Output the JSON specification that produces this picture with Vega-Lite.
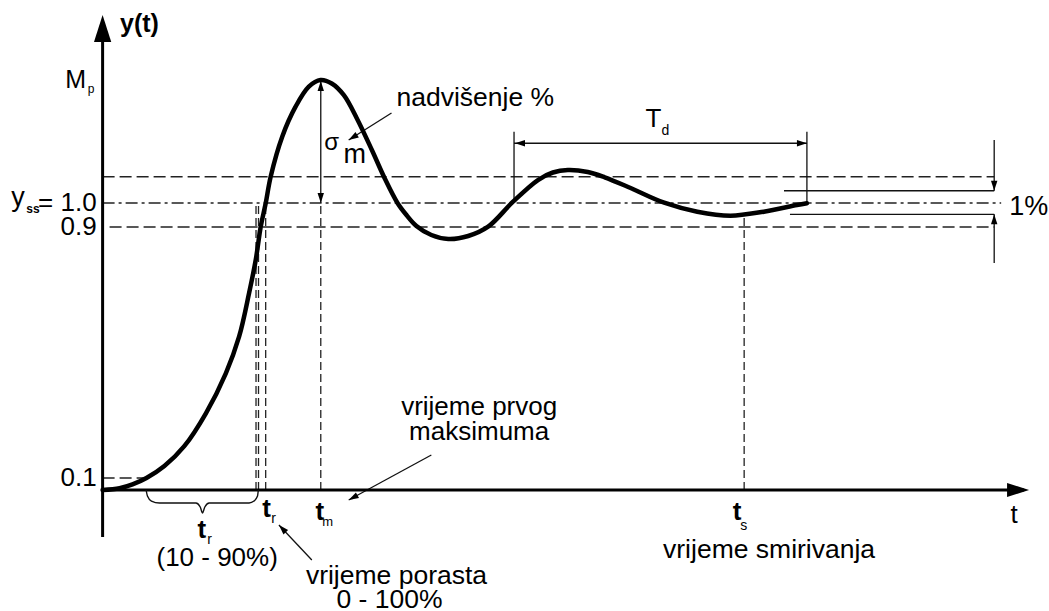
{
  "$schema": "https://vega.github.io/schema/vega-lite/v6.json",
  "width": 1049,
  "height": 611,
  "padding": 0,
  "autosize": {"type": "fit", "contains": "padding"},
  "background": "white",
  "view": {"stroke": null},
  "config": {"text": {"font": "Liberation Sans", "color": "black"}},
  "datasets": {
    "curve": [
      {"t": 0, "y": 0}, {"t": 0.17, "y": 0.015}, {"t": 0.30, "y": 0.0467}, {"t": 0.44, "y": 0.1},
      {"t": 0.62, "y": 0.1382}, {"t": 0.82, "y": 0.2014}, {"t": 1.037, "y": 0.3062}, {"t": 1.237, "y": 0.4337},
      {"t": 1.37, "y": 0.5504}, {"t": 1.47, "y": 0.6887}, {"t": 1.537, "y": 0.7948}, {"t": 1.587, "y": 0.901},
      {"t": 1.637, "y": 0.9988}, {"t": 1.687, "y": 1.1096}, {"t": 1.803, "y": 1.2763}, {"t": 1.937, "y": 1.4013},
      {"t": 2.07, "y": 1.4846}, {"t": 2.187, "y": 1.5125}, {"t": 2.30, "y": 1.4979}, {"t": 2.42, "y": 1.45},
      {"t": 2.55, "y": 1.3542}, {"t": 2.703, "y": 1.2208}, {"t": 2.83, "y": 1.1042}, {"t": 2.96, "y": 1.0},
      {"t": 3.05, "y": 0.95}, {"t": 3.15, "y": 0.9042}, {"t": 3.30, "y": 0.8745}, {"t": 3.47, "y": 0.8618},
      {"t": 3.67, "y": 0.8713}, {"t": 3.87, "y": 0.9013}, {"t": 4.12, "y": 1.0054}, {"t": 4.37, "y": 1.0958},
      {"t": 4.52, "y": 1.1271}, {"t": 4.67, "y": 1.1375}, {"t": 4.87, "y": 1.1292}, {"t": 5.04, "y": 1.1071},
      {"t": 5.30, "y": 1.0625}, {"t": 5.637, "y": 1.0013}, {"t": 5.97, "y": 0.9638}, {"t": 6.303, "y": 0.9471},
      {"t": 6.637, "y": 0.9638}, {"t": 6.97, "y": 0.9917}, {"t": 7.07, "y": 0.999}
    ],
    "dashed": [
      {"t": 0, "y": 1.1096, "t2": 8.95, "y2": 1.1096},
      {"t": 0.07, "y": 0.9, "t2": 8.95, "y2": 0.9},
      {"t": 0, "y": 0.1, "t2": 0.44, "y2": 0.1}
    ],
    "vdashed": [
      {"t": 1.54, "y": 0, "t2": 1.54, "y2": 1.0},
      {"t": 1.565, "y": 0, "t2": 1.565, "y2": 1.0},
      {"t": 1.637, "y": 0, "t2": 1.637, "y2": 1.0},
      {"t": 2.19, "y": 0, "t2": 2.19, "y2": 1.0},
      {"t": 6.44, "y": 0, "t2": 6.44, "y2": 0.943}
    ],
    "dashdot": [
      {"t": 0, "y": 1.0, "t2": 9.02, "y2": 1.0}
    ],
    "thin": [
      {"t": 2.19, "y": 1.0, "t2": 2.19, "y2": 1.5083},
      {"t": 4.13, "y": 1.0054, "t2": 4.13, "y2": 1.297},
      {"t": 7.07, "y": 0.999, "t2": 7.07, "y2": 1.297},
      {"t": 4.13, "y": 1.249, "t2": 7.07, "y2": 1.249},
      {"t": 6.84, "y": 1.051, "t2": 8.95, "y2": 1.051},
      {"t": 6.9, "y": 0.953, "t2": 8.95, "y2": 0.953},
      {"t": 8.95, "y": 1.2625, "t2": 8.95, "y2": 1.051},
      {"t": 8.95, "y": 0.7853, "t2": 8.95, "y2": 0.953},
      {"t": 2.90, "y": 1.375, "t2": 2.47, "y2": 1.2625},
      {"t": 2.10, "y": -0.2893, "t2": 1.77, "y2": -0.1446},
      {"t": 3.30, "y": 0.1733, "t2": 2.47, "y2": -0.0413}
    ],
    "axes": [
      {"t": 0, "y": -0.1942, "t2": 0, "y2": 1.70},
      {"t": 0, "y": 0, "t2": 9.25, "y2": 0}
    ],
    "brace": [
      {"t": 0.437, "y": 0}, {"t": 0.45, "y": -0.0248}, {"t": 0.49, "y": -0.0455}, {"t": 0.57, "y": -0.0537},
      {"t": 0.937, "y": -0.0537}, {"t": 0.98, "y": -0.0702}, {"t": 1.003, "y": -0.095}, {"t": 1.026, "y": -0.0702},
      {"t": 1.07, "y": -0.0537}, {"t": 1.47, "y": -0.0537}, {"t": 1.52, "y": -0.0455}, {"t": 1.555, "y": -0.0248},
      {"t": 1.563, "y": 0}
    ],
    "heads": [
      {"t": 0, "y": 1.7833, "a": 0, "s": 2916},
      {"t": 9.30, "y": 0, "a": 90, "s": 1936},
      {"t": 2.19, "y": 1.5083, "a": 0, "s": 400},
      {"t": 2.19, "y": 1.0, "a": 180, "s": 400},
      {"t": 2.47, "y": 1.2625, "a": 238, "s": 400},
      {"t": 4.14, "y": 1.249, "a": 270, "s": 400},
      {"t": 7.07, "y": 1.249, "a": 90, "s": 400},
      {"t": 8.95, "y": 1.051, "a": 180, "s": 400},
      {"t": 8.95, "y": 0.953, "a": 0, "s": 400},
      {"t": 1.77, "y": -0.1446, "a": 316.7, "s": 400},
      {"t": 2.47, "y": -0.0413, "a": 241.5, "s": 400}
    ],
    "labels": [
      {"k": "nc", "t": 1.15, "y": -0.281, "txt": "(10 - 90%)", "fs": 26},
      {"k": "nc", "t": 2.95, "y": -0.3554, "txt": "vrijeme porasta", "fs": 26.5},
      {"k": "nc", "t": 2.88, "y": -0.4545, "txt": "0 - 100%", "fs": 26.5},
      {"k": "nc", "t": 3.78, "y": 0.3263, "txt": "vrijeme prvog", "fs": 26},
      {"k": "nc", "t": 3.78, "y": 0.2466, "txt": "maksimuma", "fs": 26},
      {"k": "nc", "t": 6.69, "y": -0.2479, "txt": "vrijeme smirivanja", "fs": 26.5},
      {"k": "nc", "t": 2.30, "y": 1.25, "txt": "σ", "fs": 24},
      {"k": "nc", "t": 2.53, "y": 1.2, "txt": "m", "fs": 27},
      {"k": "nc", "t": -0.27, "y": 1.5125, "txt": "M", "fs": 25},
      {"k": "nc", "t": -0.115, "y": 1.475, "txt": "p", "fs": 12},
      {"k": "nc", "t": -0.85, "y": 1.0208, "txt": "y", "fs": 27},
      {"k": "bc", "t": -0.70, "y": 0.975, "txt": "ss", "fs": 12},
      {"k": "nc", "t": 9.15, "y": -0.1033, "txt": "t", "fs": 26},
      {"k": "nc", "t": 5.53, "y": 1.35, "txt": "T", "fs": 26},
      {"k": "nc", "t": 5.65, "y": 1.30, "txt": "d", "fs": 14},
      {"k": "nc", "t": 1.075, "y": -0.2066, "txt": "r", "fs": 14},
      {"k": "nc", "t": 1.715, "y": -0.1198, "txt": "r", "fs": 14},
      {"k": "nc", "t": 2.26, "y": -0.1322, "txt": "m", "fs": 13},
      {"k": "nc", "t": 6.435, "y": -0.1488, "txt": "s", "fs": 14},
      {"k": "nr", "t": -0.06, "y": 1.0, "txt": "= 1.0", "fs": 26},
      {"k": "nr", "t": -0.06, "y": 0.9, "txt": "0.9", "fs": 26},
      {"k": "nr", "t": -0.06, "y": 0.1, "txt": "0.1", "fs": 26},
      {"k": "nl", "t": 2.95, "y": 1.4375, "txt": "nadvišenje %", "fs": 26.5},
      {"k": "nl", "t": 9.10, "y": 0.9833, "txt": "1%", "fs": 27},
      {"k": "bc", "t": 0.37, "y": 1.7458, "txt": "y(t)", "fs": 25},
      {"k": "bc", "t": 0.995, "y": -0.1653, "txt": "t", "fs": 26},
      {"k": "bc", "t": 1.645, "y": -0.0785, "txt": "t", "fs": 26},
      {"k": "bc", "t": 2.18, "y": -0.0909, "txt": "t", "fs": 26},
      {"k": "bc", "t": 6.37, "y": -0.0909, "txt": "t", "fs": 26}
    ]
  },
  "encoding": {
    "x": {"field": "t", "type": "quantitative", "axis": null,
          "scale": {"domain": [-1.03, 9.46], "nice": false, "zero": false}},
    "y": {"field": "y", "type": "quantitative", "axis": null,
          "scale": {"domain": [-0.5, 0, 0.1, 0.9, 1.0, 1.8458], "range": [611, 490, 478, 227, 203, 0], "nice": false, "zero": false}}
  },
  "layer": [
    {"data": {"name": "dashed"}, "mark": {"type": "rule", "color": "#222", "strokeWidth": 1.5, "strokeDash": [12, 5]},
     "encoding": {"x2": {"field": "t2"}, "y2": {"field": "y2"}}},
    {"data": {"name": "vdashed"}, "mark": {"type": "rule", "color": "#222", "strokeWidth": 1.3, "strokeDash": [8, 4]},
     "encoding": {"x2": {"field": "t2"}, "y2": {"field": "y2"}}},
    {"data": {"name": "dashdot"}, "mark": {"type": "rule", "color": "#222", "strokeWidth": 1.5, "strokeDash": [12, 4, 3, 4]},
     "encoding": {"x2": {"field": "t2"}, "y2": {"field": "y2"}}},
    {"data": {"name": "thin"}, "mark": {"type": "rule", "color": "#111", "strokeWidth": 1.3},
     "encoding": {"x2": {"field": "t2"}, "y2": {"field": "y2"}}},
    {"data": {"name": "axes"}, "mark": {"type": "rule", "color": "#000", "strokeWidth": 3},
     "encoding": {"x2": {"field": "t2"}, "y2": {"field": "y2"}}},
    {"data": {"name": "brace"}, "mark": {"type": "line", "color": "#111", "strokeWidth": 1.4, "interpolate": "monotone"},
     "encoding": {"order": {"field": "t", "type": "quantitative"}}},
    {"data": {"name": "curve"}, "mark": {"type": "line", "color": "#000", "strokeWidth": 4.5, "interpolate": "catmull-rom", "strokeCap": "round"},
     "encoding": {"order": {"field": "t", "type": "quantitative"}}},
    {"data": {"name": "heads"}, "mark": {"type": "point", "filled": true, "color": "#000", "opacity": 1, "shape": "M0,0L0.32,1L-0.32,1Z"},
     "encoding": {"size": {"field": "s", "type": "quantitative", "scale": null}, "angle": {"field": "a", "type": "quantitative", "scale": null}}},
    {"data": {"name": "labels"}, "transform": [{"filter": "datum.k == 'nc'"}],
     "mark": {"type": "text", "align": "center", "baseline": "middle"},
     "encoding": {"text": {"field": "txt"}, "size": {"field": "fs", "type": "quantitative", "scale": null}}},
    {"data": {"name": "labels"}, "transform": [{"filter": "datum.k == 'bc'"}],
     "mark": {"type": "text", "align": "center", "baseline": "middle", "fontWeight": "bold"},
     "encoding": {"text": {"field": "txt"}, "size": {"field": "fs", "type": "quantitative", "scale": null}}},
    {"data": {"name": "labels"}, "transform": [{"filter": "datum.k == 'nr'"}],
     "mark": {"type": "text", "align": "right", "baseline": "middle"},
     "encoding": {"text": {"field": "txt"}, "size": {"field": "fs", "type": "quantitative", "scale": null}}},
    {"data": {"name": "labels"}, "transform": [{"filter": "datum.k == 'nl'"}],
     "mark": {"type": "text", "align": "left", "baseline": "middle"},
     "encoding": {"text": {"field": "txt"}, "size": {"field": "fs", "type": "quantitative", "scale": null}}}
  ]
}
